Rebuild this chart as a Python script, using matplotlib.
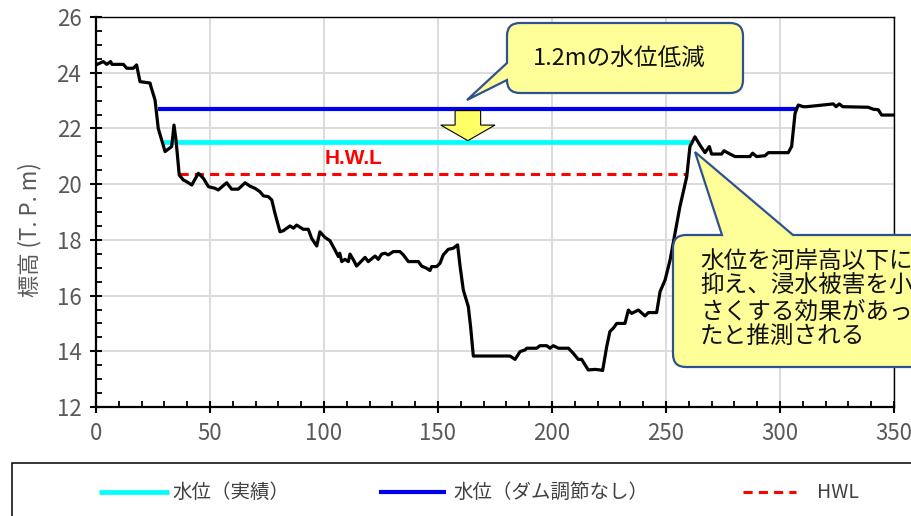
import matplotlib
matplotlib.use("Agg")
import matplotlib.pyplot as plt
from matplotlib.patches import PathPatch, Polygon, Rectangle
from matplotlib.path import Path
from matplotlib.lines import Line2D
from matplotlib.transforms import IdentityTransform
from matplotlib.ticker import MultipleLocator

plt.rcParams['font.family'] = ['Liberation Sans Narrow', 'Noto Sans CJK JP', 'DejaVu Sans']

# river cross-section profile (distance m, elevation T.P.m)
dist = [0, 3.2, 4.7, 6.4, 7.0, 12.0, 13.5, 16.4, 17.8, 19.3, 23.7, 24.1, 25.9, 27.3,
        28.8, 30.3, 33.2, 34.2, 35.1, 36.5, 38.3, 39.5, 42.0, 44.9, 47.1, 49.3, 52.2,
        53.6, 57.3, 59.5, 62.4, 65.4, 67.5, 69.7, 71.9, 73.4, 75.6, 77.1, 78.5, 80.7,
        82.2, 85.1, 86.6, 88.0, 90.9, 93.1, 94.6, 96.8, 98.2, 100.4, 102.6, 104.8,
        106.3, 106.9, 107.8, 109.2, 110.7, 111.4, 112.9, 114.3, 118.0, 119.4, 122.4,
        123.8, 125.3, 126.8, 128.2, 130.4, 133.3, 134.8, 137.0, 141.4, 142.8, 145.0,
        146.5, 147.2, 149.4, 150.9, 152.3, 154.5, 156.7, 158.6, 159.7, 161.1, 163.3,
        164.3, 165.5, 181.6, 183.8, 186.0, 188.2, 188.9, 193.3, 194.7, 197.7, 199.1,
        200.6, 202.8, 207.2, 209.3, 211.5, 213.0, 214.5, 215.9, 218.9, 221.1, 222.2,
        224.0, 225.4, 226.9, 228.4, 232.0, 233.5, 234.9, 237.9, 240.8, 242.3, 243.7,
        245.9, 247.4, 249.6, 251.8, 256.1, 259.1, 260.5, 262.7, 264.9, 267.1, 269.0,
        270.0, 274.4, 275.4, 278.1, 280.3, 286.8, 288.0, 289.7, 293.4, 294.9, 303.6,
        305.1, 306.6, 308.0, 310.2, 311.7, 323.4, 324.6, 326.0, 327.5, 338.7, 340.9,
        343.1, 344.6, 350]
elev = [24.28, 24.4, 24.3, 24.4, 24.3, 24.3, 24.16, 24.16, 24.28, 23.68, 23.63, 23.5,
        23.02, 22.0, 21.58, 21.17, 21.35, 22.12, 21.58, 20.33, 20.15, 20.1, 19.97, 20.39,
        20.21, 19.91, 19.85, 19.79, 20.05, 19.82, 19.82, 20.05, 19.93, 19.85, 19.73,
        19.58, 19.55, 19.43, 18.95, 18.29, 18.33, 18.5, 18.42, 18.53, 18.38, 18.38,
        18.05, 17.78, 18.29, 18.09, 17.97, 17.64, 17.4, 17.52, 17.22, 17.3, 17.22,
        17.49, 17.28, 17.06, 17.37, 17.22, 17.42, 17.3, 17.49, 17.52, 17.46, 17.58,
        17.58, 17.46, 17.22, 17.22, 17.06, 16.98, 16.9, 17.04, 17.04, 17.16, 17.46,
        17.66, 17.7, 17.82, 17.04, 16.2, 15.6, 14.88, 13.83, 13.83, 13.71, 13.99, 14.05,
        14.11, 14.11, 14.2, 14.2, 14.11, 14.2, 14.11, 14.11, 13.93, 13.71, 13.71, 13.51,
        13.33, 13.35, 13.33, 13.31, 14.17, 14.71, 14.83, 15.0, 15.0, 15.48, 15.36,
        15.48, 15.27, 15.39, 15.39, 15.39, 16.14, 16.56, 17.28, 19.19, 20.27, 21.35,
        21.7, 21.4, 21.13, 21.35, 21.08, 21.08, 21.2, 21.08, 20.99, 20.99, 21.11, 20.99,
        21.02, 21.13, 21.13, 21.35, 22.54, 22.84, 22.78, 22.78, 22.88, 22.78, 22.88,
        22.78, 22.76, 22.69, 22.67, 22.48, 22.48]

# water levels
actual_x = [29.2, 262.0]
actual_y = [21.5, 21.5]
nodam_x = [27.3, 307.3]
nodam_y = [22.7, 22.7]
hwl_x = [36.5, 259.3]
hwl_y = [20.36, 20.36]

labels = ['水位（実績）', '水位（ダム調節なし）', 'HWL']
note1 = '1.2mの水位低減'
note2 = '水位を河岸高以下に\n抑え、浸水被害を小\nさくする効果があっ\nたと推測される'

W, H = 912, 516
fig = plt.figure(figsize=(W / 100, H / 100), dpi=100)
ax = fig.add_axes([96 / W, 1 - 407 / H, 798 / W, 390 / H])

gray = '#595959'
styles = [dict(color='#00FFFF', lw=3.4, solid_capstyle='butt'),
          dict(color='#0000F0', lw=3.0, solid_capstyle='butt'),
          dict(color='#FF0000', lw=2.2, ls=(0, (3, 2)))]

ax.plot(nodam_x, nodam_y, zorder=3, **styles[1])
ax.plot(actual_x, actual_y, zorder=3, **styles[0])
ax.plot(hwl_x, hwl_y, zorder=3, **styles[2])
ax.plot(dist, elev, color='black', lw=2.3, zorder=4, solid_joinstyle='round')

ax.text(113, 20.93, 'H.W.L', color='#FF0000', fontsize=15, fontweight='bold',
        family='Liberation Sans', ha='center', va='center', zorder=5)

# yellow arrow between the two water levels
cx = 163.1
arrow = Polygon([(cx - 5.6, 22.64), (cx + 5.6, 22.64), (cx + 5.6, 22.12), (cx + 11.9, 22.12),
                 (cx, 21.56), (cx - 11.9, 22.12), (cx - 5.6, 22.12)],
                closed=True, facecolor='#FFFF66', edgecolor='black', lw=0.8, zorder=6)
ax.add_patch(arrow)

ax.set_xlim(0, 350)
ax.set_ylim(12, 26)
ax.xaxis.set_major_locator(MultipleLocator(50))
ax.xaxis.set_minor_locator(MultipleLocator(10))
ax.yaxis.set_major_locator(MultipleLocator(2))
ax.yaxis.set_minor_locator(MultipleLocator(0.5))
ax.grid(True, which='major', color='#D9D9D9', lw=1.3)
ax.set_axisbelow(True)
ax.tick_params(which='major', direction='inout', length=9, width=1.5, labelsize=16,
               labelcolor=gray, pad=6)
ax.tick_params(which='minor', direction='in', length=4, width=1.3)
for side in ['left', 'bottom']:
    ax.spines[side].set_linewidth(1.6)
for side in ['top', 'right']:
    ax.spines[side].set_linewidth(1.0)
ax.set_ylabel('標高 (T. P. m)', fontsize=16, color=gray)
ax.yaxis.set_label_coords(-0.068, 0.456)


def bubble(L, T, R, B, tip, side, s0, s1, r=13):
    # rounded callout in image pixels (y from top)
    T, B = H - T, H - B
    tx, ty = tip[0], H - tip[1]
    verts = [(L + r, B)]
    codes = [Path.MOVETO]

    def seg(p):
        verts.append(p)
        codes.append(Path.LINETO)

    def corner(c, p):
        verts.extend([c, p])
        codes.extend([Path.CURVE3, Path.CURVE3])

    seg((R - r, B)); corner((R, B), (R, B + r))
    seg((R, T - r)); corner((R, T), (R - r, T))
    if side == 'top':
        seg((s1, T)); seg((tx, ty)); seg((s0, T))
    seg((L + r, T)); corner((L, T), (L, T - r))
    if side == 'left':
        seg((L, H - s0)); seg((tx, ty)); seg((L, H - s1))
    seg((L, B + r)); corner((L, B), (L + r, B))
    verts.append((0, 0))
    codes.append(Path.CLOSEPOLY)
    p = PathPatch(Path(verts, codes), facecolor='#FFFF99', edgecolor='#2F528F', lw=1.6,
                  transform=IdentityTransform(), zorder=10)
    fig.add_artist(p)


bubble(507, 23, 743, 93, (467, 100), 'left', 63, 80)
fig.text(619 / W, 1 - 58 / H, note1, fontsize=17, family='Noto Sans CJK JP',
         ha='center', va='center', color='#111111', zorder=11)

bubble(673, 235, 1000, 367, (695, 152), 'top', 722, 793)
fig.text(700 / W, 1 - 250 / H, note2, fontsize=17, family='Noto Sans CJK JP',
         ha='left', va='top', color='#111111', linespacing=1.13, zorder=11)

# legend box below the chart
fig.add_artist(Rectangle((12, -50), 1000, H - 463 + 50, facecolor='white',
                         edgecolor='black', lw=1.1, transform=IdentityTransform(), zorder=1))
leg_y = H - 492
line_x = [(99, 169), (379, 446), (743, 796)]
text_x = [172, 453, 817]
for (x0, x1), tx, st, lab in zip(line_x, text_x, styles, labels):
    fig.add_artist(Line2D([x0, x1], [leg_y, leg_y], transform=IdentityTransform(), zorder=2, **st))
    fig.text(tx / W, leg_y / H, lab, fontsize=14, color='#404040', ha='left', va='center',
             family=['Liberation Sans Narrow', 'Noto Sans CJK JP'], zorder=2)

fig.savefig('out.png', dpi=100)
